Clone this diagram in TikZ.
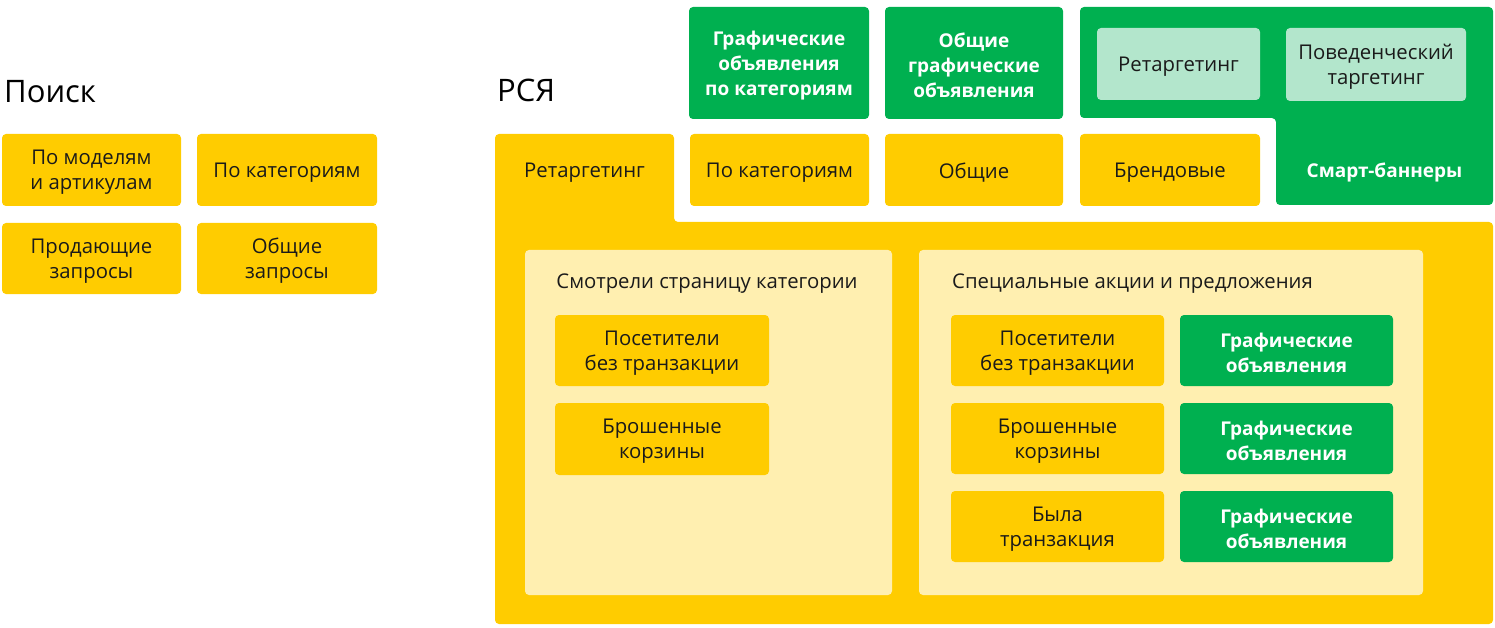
\documentclass[tikz,border=0pt]{standalone}
\usepackage{fontspec}
\setmainfont{Open Sans}
\definecolor{yel}{HTML}{FFCC00}
\definecolor{lyel}{HTML}{FFEFB0}
\definecolor{grn}{HTML}{00B050}
\definecolor{lgrn}{HTML}{B3E6CC}
\definecolor{ink}{HTML}{1A1A1A}
\newcommand{\boxfont}{\fontsize{20.3}{25}\selectfont}
\newcommand{\headfont}{\fontsize{31}{36}\selectfont}
% \bx{style}{name}{cx}{cy}{w}{h}{text}
\newcommand{\bx}[7]{%
  \node[#1, minimum width=#5pt, minimum height=#6pt] (#2) at (#3,#4) {};
  \node[#1 txt] (#2t) at ([yshift=-2.5pt]#2.center) {#7};}
\begin{document}
\begin{tikzpicture}[x=1pt,y=-1pt,
  base/.style={rounded corners=4pt, inner sep=0pt},
  ybox/.style={base, fill=yel},
  gbox/.style={base, fill=grn},
  lgbox/.style={base, fill=lgrn},
  ybox txt/.style={align=center, inner sep=0pt, font=\boxfont, text=ink},
  lgbox txt/.style={ybox txt},
  gbox txt/.style={align=center, inner sep=0pt, font=\fontsize{19}{25}\selectfont\bfseries, text=white},
  head/.style={inner sep=0pt, font=\headfont, text=black, anchor=base west},
  ]
\useasboundingbox (0,0) rectangle (1495,628);
% titles
\node[head] (poisk) at (4,103) {Поиск};
\node[head] (rsya) at (497,102) {РСЯ};
% search
\bx{ybox}{s1}{91.5}{170}{179}{72}{По моделям\\и артикулам}
\bx{ybox}{s2}{287}{170}{180}{72}{По категориям}
\bx{ybox}{s3}{91.5}{258.5}{179}{71}{Продающие\\запросы}
\bx{ybox}{s4}{287}{258.5}{180}{71}{Общие\\запросы}
% green top boxes
\bx{gbox}{g1}{779}{63}{180}{112}{Графические\\объявления\\по категориям}
\bx{gbox}{g2}{974}{63}{178}{112}{Общие\\графические\\объявления}
% smart banners L shape
\fill[grn, rounded corners=4pt] (1080,7) -- (1493,7) -- (1493,205) -- (1276,205) -- (1276,118) -- (1080,118) -- cycle;
\bx{lgbox}{lg1}{1178.5}{64}{163}{72}{Ретаргетинг}
\bx{lgbox}{lg2}{1376}{64.5}{180}{73}{Поведенческий\\таргетинг}
\node[gbox txt] (smart) at (1384.5,172.5) {Смарт-баннеры};
% yellow retargeting L shape
\fill[yel, rounded corners=4pt] (495,134) -- (674,134) -- (674,222) -- (1493,222) -- (1493,624) -- (495,624) -- cycle;
\node[ybox txt] (ret) at (584.5,172.5) {Ретаргетинг};
\bx{ybox}{y2}{779.5}{170}{179}{72}{По категориям}
\bx{ybox}{y3}{974}{170}{178}{72}{Общие}
\bx{ybox}{y4}{1170}{170}{180}{72}{Брендовые}
% panel 1
\fill[lyel, rounded corners=4pt] (525,250) rectangle (892,595);
\node[ybox txt] (t1) at (707,284) {Смотрели страницу категории};
\bx{ybox}{p1a}{662}{350.5}{214}{71}{Посетители\\без транзакции}
\bx{ybox}{p1b}{662}{439}{214}{72}{Брошенные\\корзины}
% panel 2
\fill[lyel, rounded corners=4pt] (919,250) rectangle (1423,595);
\node[ybox txt, anchor=west] (t2) at (952,284) {Специальные акции и предложения};
\bx{ybox}{p2a}{1057.5}{350.5}{213}{71}{Посетители\\без транзакции}
\bx{ybox}{p2b}{1057.5}{438.5}{213}{71}{Брошенные\\корзины}
\bx{ybox}{p2c}{1057.5}{526.5}{213}{71}{Была\\транзакция}
\bx{gbox}{q2a}{1286.5}{350.5}{213}{71}{Графические\\объявления}
\bx{gbox}{q2b}{1286.5}{438.5}{213}{71}{Графические\\объявления}
\bx{gbox}{q2c}{1286.5}{526.5}{213}{71}{Графические\\объявления}
\end{tikzpicture}
\end{document}
